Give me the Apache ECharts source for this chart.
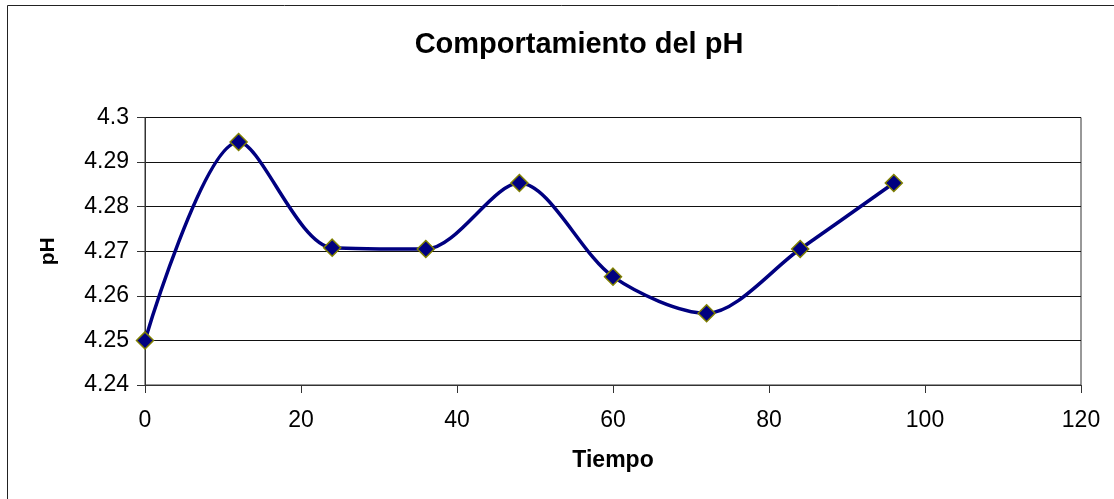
<!DOCTYPE html>
<html>
<head>
<meta charset="utf-8">
<script src="https://cdn.jsdelivr.net/npm/echarts@6/dist/echarts.min.js"></script>
<style>
html,body{margin:0;padding:0;background:#fff;}
#chart{width:1114px;height:499px;}
</style>
</head>
<body>
<div id="chart"></div>
<script>
const tiempo = [0, 12, 24, 36, 48, 60, 72, 84, 96];
const ph = [4.25, 4.2945, 4.2708, 4.2705, 4.2853, 4.2643, 4.2561, 4.2705, 4.2853];
const titleText = 'Comportamiento del pH';
const xName = 'Tiempo';
const yName = 'pH';

const chart = echarts.init(document.getElementById('chart'), null, {renderer: 'canvas'});
const font = 'Liberation Sans, Arial, sans-serif';
chart.setOption({
  animation: false,
  backgroundColor: '#ffffff',
  title: {
    text: titleText,
    left: 574,
    textAlign: 'center',
    top: 25,
    textStyle: {fontFamily: font, fontWeight: 'bold', fontSize: 29, color: '#000'}
  },
  graphic: [{
    type: 'rect',
    shape: {x: 7.5, y: 5.5, width: 1200, height: 600},
    style: {fill: 'none', stroke: '#222', lineWidth: 1},
    silent: true
  }],
  grid: {left: 145, right: 33, top: 117.5, bottom: 114, show: true, borderColor: '#333', borderWidth: 1, backgroundColor: 'transparent'},
  xAxis: {
    type: 'value',
    min: 0, max: 120, interval: 20,
    name: xName,
    nameLocation: 'middle',
    nameGap: 64,
    nameTextStyle: {fontFamily: font, fontWeight: 'bold', fontSize: 23, color: '#000'},
    axisLine: {show: true, lineStyle: {color: '#333', width: 1}},
    axisTick: {show: true, length: 8, inside: false, lineStyle: {color: '#333'}},
    axisLabel: {fontFamily: font, fontSize: 23, color: '#000', margin: 24},
    splitLine: {show: false}
  },
  yAxis: {
    type: 'value',
    min: 4.24, max: 4.30, interval: 0.01,
    name: yName,
    nameLocation: 'middle',
    nameGap: 86,
    nameRotate: 90,
    nameTextStyle: {fontFamily: font, fontWeight: 'bold', fontSize: 21, color: '#000'},
    axisLine: {show: true, lineStyle: {color: '#333', width: 1}},
    axisTick: {show: true, length: 8, inside: false, lineStyle: {color: '#333'}},
    axisLabel: {fontFamily: font, fontSize: 23, color: '#000', margin: 16,
      formatter: v => String(parseFloat(v.toFixed(2)))},
    splitLine: {show: true, lineStyle: {color: '#111', width: 1}}
  },
  series: [{
    type: 'line',
    data: tiempo.map((t, i) => [t, ph[i]]),
    smooth: 0.3,
    symbol: 'diamond',
    symbolSize: 17,
    lineStyle: {color: '#000080', width: 3.5},
    itemStyle: {color: '#000080', borderColor: '#808000', borderWidth: 1.5},
    z: 3
  }]
});
</script>
</body>
</html>
